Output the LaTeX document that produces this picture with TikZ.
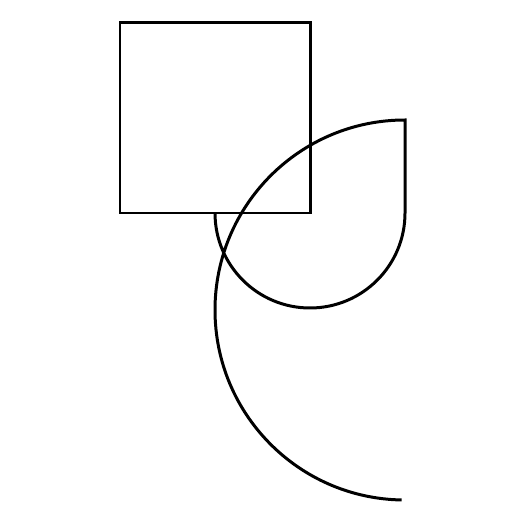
\documentclass[tikz,border=0pt]{standalone}
\usetikzlibrary{calc}
\tikzset{
  outline/.style={draw=black, line width=0.85pt, line join=miter}
}
\begin{document}
\begin{tikzpicture}[x=0.01cm,y=-0.01cm]
  \useasboundingbox (0,0) rectangle (525,525);
  % square
  \draw[outline] (120,23) rectangle (310,213);
  % small half-circle, straight side, large arc
  \draw[outline] (215,213) arc (180:360:95 and -95) -- (405,120)
    arc (90:269:190 and -190);
\end{tikzpicture}
\end{document}
